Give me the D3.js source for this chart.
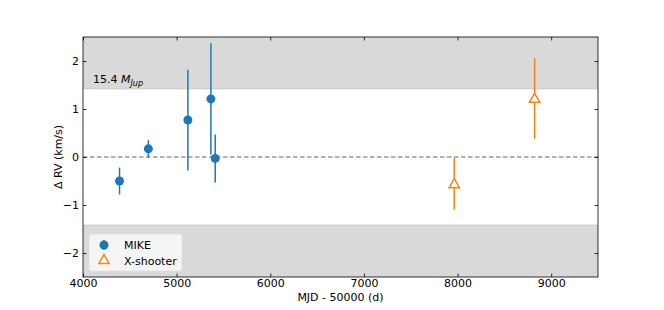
<!DOCTYPE html>
<html>
<head>
<meta charset="utf-8">
<script src="https://cdn.jsdelivr.net/npm/d3@7"></script>
<style>
  body { margin: 0; background: #fff; }
  svg { font-family: "DejaVu Sans", sans-serif; }
</style>
</head>
<body>
<svg id="chart" width="664" height="310"></svg>
<script>
// MIKE epochs (MJD - 50000), dRV and errors (km/s)
const mikeMjd = [4390, 4698, 5120, 5366, 5412];
const mikeRv  = [-0.50, 0.17, 0.77, 1.21, -0.03];
const mikeErr = [0.28, 0.18, 1.05, 1.16, 0.50];

// X-shooter
const xshMjd = [7965, 8823];
const xshRv  = [-0.56, 1.22];
const xshErr = [0.54, 0.84];

const xTicks = [4000, 5000, 6000, 7000, 8000, 9000];
const yTicks = [-2, -1, 0, 1, 2];
const limitRv = 1.42;   // 15.4 MJup limit
const limitLabel = '15.4';

const svg = d3.select('#chart');
const pLeft = 83, pRight = 598, pTop = 37, pBottom = 277;
const fs = '11px';

const x = d3.scaleLinear().domain([4000, 9500]).range([pLeft, pRight]);
const y = d3.scaleLinear().domain([-2.5, 2.5]).range([pBottom, pTop]);

const blue = '#1f77b4';
const orange = '#ff7f0e';
const shade = '#d9d9d9';

// shaded excluded zones
svg.append('rect')
    .attr('x', pLeft).attr('y', y(2.5))
    .attr('width', pRight - pLeft).attr('height', y(limitRv) - y(2.5))
    .style('fill', shade);
svg.append('rect')
    .attr('x', pLeft).attr('y', y(-limitRv))
    .attr('width', pRight - pLeft).attr('height', y(-2.5) - y(-limitRv))
    .style('fill', shade);
svg.append('line')
    .attr('x1', pLeft).attr('x2', pRight)
    .attr('y1', y(limitRv)).attr('y2', y(limitRv))
    .style('stroke', '#c8c8c8').style('stroke-width', 1);
svg.append('line')
    .attr('x1', pLeft).attr('x2', pRight)
    .attr('y1', y(-limitRv)).attr('y2', y(-limitRv))
    .style('stroke', '#c8c8c8').style('stroke-width', 1);

// zero line
svg.append('line')
    .attr('x1', pLeft).attr('x2', pRight)
    .attr('y1', y(0)).attr('y2', y(0))
    .style('stroke', '#666').style('stroke-width', 1.2)
    .style('stroke-dasharray', '4.5,2.5');

// label
const lab = svg.append('text')
    .attr('x', 93).attr('y', 83)
    .style('font-size', fs).style('fill', '#000');
lab.append('tspan').text(limitLabel + ' ');
lab.append('tspan').style('font-style', 'italic').text('M');
lab.append('tspan').style('font-style', 'italic').style('font-size', '8px')
    .attr('dy', 2.5).text('Jup');

// axes
const axisBottom = d3.axisBottom(x).tickValues(xTicks).tickSizeInner(-3.5).tickSizeOuter(0).tickPadding(2)
    .tickFormat(d3.format('d'));
const axisTop = d3.axisTop(x).tickValues(xTicks).tickSizeInner(-3.5).tickSizeOuter(0).tickFormat('');
const axisLeft = d3.axisLeft(y).tickValues(yTicks).tickSizeInner(-3.5).tickSizeOuter(0).tickPadding(4)
    .tickFormat(d => d < 0 ? '\u2212' + Math.abs(d) : d);
const axisRight = d3.axisRight(y).tickValues(yTicks).tickSizeInner(-3.5).tickSizeOuter(0).tickFormat('');

function styleAxis(g) {
  g.select('.domain').remove();
  g.selectAll('line').style('stroke', '#000').style('stroke-width', 0.8);
  g.selectAll('text').style('font-size', fs).style('fill', '#000')
    .style('font-family', '"DejaVu Sans", sans-serif');
}

svg.append('g').attr('transform', `translate(0,${pBottom})`).call(axisBottom).call(styleAxis);
svg.append('g').attr('transform', `translate(0,${pTop})`).call(axisTop).call(styleAxis);
svg.append('g').attr('transform', `translate(${pLeft},0)`).call(axisLeft).call(styleAxis);
svg.append('g').attr('transform', `translate(${pRight},0)`).call(axisRight).call(styleAxis);

// frame
svg.append('rect')
    .attr('x', pLeft).attr('y', pTop)
    .attr('width', pRight - pLeft).attr('height', pBottom - pTop)
    .style('fill', 'none').style('stroke', '#000').style('stroke-width', 0.8);

// axis labels
svg.append('text')
    .attr('x', (pLeft + pRight) / 2).attr('y', 301)
    .attr('text-anchor', 'middle')
    .style('font-size', fs)
    .text('MJD - 50000 (d)');
svg.append('text')
    .attr('transform', `translate(62,${(pTop + pBottom) / 2}) rotate(-90)`)
    .attr('text-anchor', 'middle')
    .style('font-size', fs)
    .text('\u0394 RV (km/s)');

// MIKE
const mike = mikeMjd.map((d, i) => ({ t: d, v: mikeRv[i], e: mikeErr[i] }));
svg.append('g').selectAll('line').data(mike).join('line')
    .attr('x1', d => x(d.t)).attr('x2', d => x(d.t))
    .attr('y1', d => y(d.v - d.e)).attr('y2', d => y(d.v + d.e))
    .style('stroke', blue).style('stroke-width', 1.5);
svg.append('g').selectAll('circle').data(mike).join('circle')
    .attr('cx', d => x(d.t)).attr('cy', d => y(d.v))
    .attr('r', 4.5)
    .style('fill', blue);

// X-shooter
const xsh = xshMjd.map((d, i) => ({ t: d, v: xshRv[i], e: xshErr[i] }));
const tri = d3.symbol().type(d3.symbolTriangle).size(46);
svg.append('g').selectAll('line').data(xsh).join('line')
    .attr('x1', d => x(d.t)).attr('x2', d => x(d.t))
    .attr('y1', d => y(d.v - d.e)).attr('y2', d => y(d.v + d.e))
    .style('stroke', orange).style('stroke-width', 1.5);
svg.append('g').selectAll('path').data(xsh).join('path')
    .attr('d', tri)
    .attr('transform', d => `translate(${x(d.t)},${y(d.v) + 0.8})`)
    .style('fill', '#fff').style('stroke', orange).style('stroke-width', 1.5);

// legend
const lg = svg.append('g');
lg.append('rect')
    .attr('x', 89).attr('y', 234)
    .attr('width', 93).attr('height', 37)
    .attr('rx', 2.5)
    .style('fill', '#f7f7f7').style('fill-opacity', 0.9)
    .style('stroke', '#e0e0e0').style('stroke-width', 0.8);
lg.append('line')
    .attr('x1', 104).attr('x2', 104).attr('y1', 240).attr('y2', 250)
    .style('stroke', blue).style('stroke-width', 1.5);
lg.append('circle').attr('cx', 104).attr('cy', 245).attr('r', 4.5).style('fill', blue);
lg.append('path').attr('d', tri).attr('transform', 'translate(104,260.5)')
    .style('fill', '#fff').style('stroke', orange).style('stroke-width', 1.5);
lg.append('text').attr('x', 124).attr('y', 249).style('font-size', fs).text('MIKE');
lg.append('text').attr('x', 124).attr('y', 265).style('font-size', fs).text('X-shooter');
</script>
</body>
</html>
